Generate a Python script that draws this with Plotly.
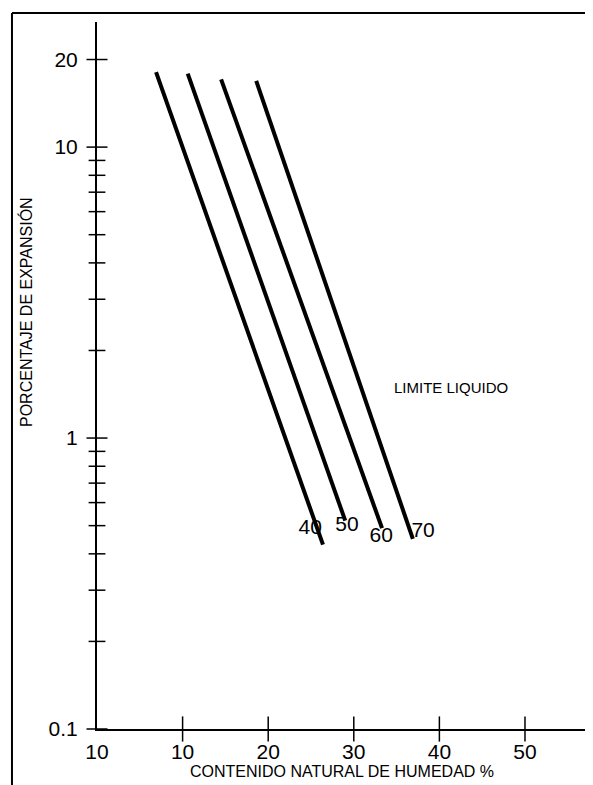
import plotly.graph_objects as go

# ---- data ----
limite_liquido = ["40", "50", "60", "70"]
humedad_inicio = [6.9, 10.6, 14.5, 18.6]
expansion_inicio = [18.1, 17.9, 17.1, 16.9]
humedad_fin = [26.4, 29.0, 33.3, 36.9]
expansion_fin = [0.43, 0.52, 0.49, 0.45]
etiqueta_x = [24.9, 29.2, 33.2, 38.1]
etiqueta_y = [0.486, 0.499, 0.457, 0.475]

x_tickvals = [0, 10, 20, 30, 40, 50]
x_ticktext = ["10", "10", "20", "30", "40", "50"]
y_tickvals = [0.1, 1, 10, 20]
y_ticktext = ["0.1", "1", "10", "20"]
y_minor = [0.2, 0.3, 0.4, 0.5, 0.6, 0.7, 0.8, 0.9, 2, 3, 4, 5, 6, 7, 8, 9]

FONT = "Liberation Sans, Arial, sans-serif"

fig = go.Figure()

for i, name in enumerate(limite_liquido):
    fig.add_trace(go.Scatter(
        x=[humedad_inicio[i], humedad_fin[i]],
        y=[expansion_inicio[i], expansion_fin[i]],
        mode="lines", line=dict(color="black", width=4),
        showlegend=False, hoverinfo="skip"))

fig.add_trace(go.Scatter(
    x=etiqueta_x, y=etiqueta_y, mode="text", text=limite_liquido,
    textfont=dict(family=FONT, size=21, color="black"),
    showlegend=False, hoverinfo="skip"))

# crossing tick marks on the axes
fig.add_trace(go.Scatter(
    x=[0] * len(y_tickvals), y=y_tickvals, mode="markers",
    marker=dict(symbol="line-ew", size=15, line=dict(color="black", width=1.5)),
    cliponaxis=False, showlegend=False, hoverinfo="skip"))
fig.add_trace(go.Scatter(
    x=[0] * len(y_minor), y=y_minor, mode="markers",
    marker=dict(symbol="line-ew", size=12, line=dict(color="black", width=1.5)),
    cliponaxis=False, showlegend=False, hoverinfo="skip"))
fig.add_trace(go.Scatter(
    x=x_tickvals[1:], y=[0.1] * (len(x_tickvals) - 1), mode="markers",
    marker=dict(symbol="line-ns", size=18, line=dict(color="black", width=1.5)),
    cliponaxis=False, showlegend=False, hoverinfo="skip"))

fig.add_annotation(x=41.4, y=0.173, xref="x", yref="y", text="LIMITE LIQUIDO",
                   showarrow=False, xanchor="center", yanchor="middle",
                   font=dict(family=FONT, size=15, color="black"))

fig.add_annotation(x=0.486, y=-0.0608, xref="paper", yref="paper",
                   text="CONTENIDO NATURAL DE HUMEDAD %", showarrow=False,
                   xanchor="center", yanchor="middle",
                   font=dict(family=FONT, size=16, color="black"))
fig.add_annotation(x=-0.1409, y=0.5898, xref="paper", yref="paper",
                   text="PORCENTAJE DE EXPANSIÓN", textangle=-90, showarrow=False,
                   xanchor="center", yanchor="middle",
                   font=dict(family=FONT, size=16, color="black"))

# outer frame (left and top)
fig.add_shape(type="line", xref="paper", yref="paper", x0=-0.1687, x1=-0.1687,
              y0=1.0127, y1=-0.1, line=dict(color="black", width=2))
fig.add_shape(type="line", xref="paper", yref="paper", x0=-0.1687, x1=1.0,
              y0=1.0127, y1=1.0127, line=dict(color="black", width=2))

fig.update_layout(
    width=593, height=785,
    margin=dict(l=89, r=0, t=14, b=64),
    paper_bgcolor="white", plot_bgcolor="white",
    font=dict(family=FONT, color="black"),
    xaxis=dict(range=[0, 58.88], showgrid=False, zeroline=False,
               showline=True, linecolor="black", linewidth=2,
               tickmode="array", tickvals=x_tickvals, ticktext=x_ticktext,
               ticks="", ticklabelstandoff=3,
               tickfont=dict(family=FONT, size=21, color="black")),
    yaxis=dict(type="log", range=[-1, 1.43], showgrid=False, zeroline=False,
               showline=True, linecolor="black", linewidth=2,
               tickmode="array", tickvals=y_tickvals, ticktext=y_ticktext,
               ticks="", ticklabelstandoff=13,
               tickfont=dict(family=FONT, size=21, color="black")),
)

fig.write_html("out.html")
